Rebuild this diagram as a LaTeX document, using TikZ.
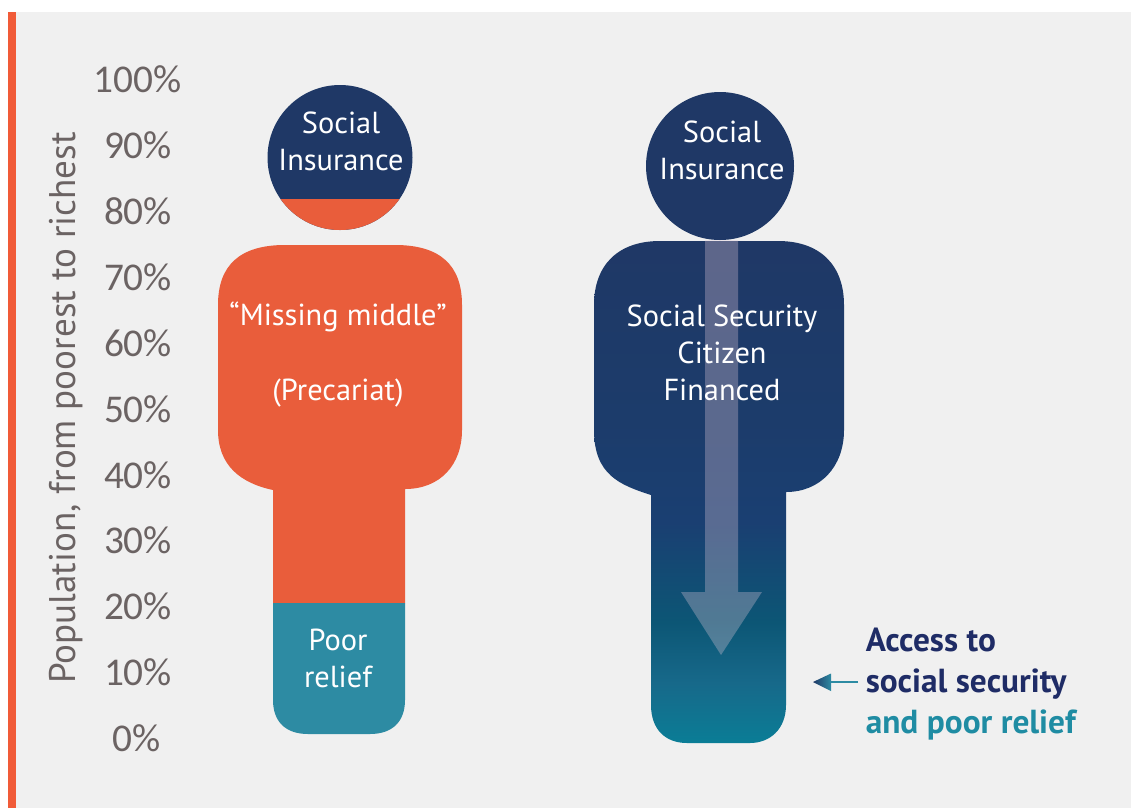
\documentclass[tikz,border=0pt]{standalone}
\usepackage{fontspec}
\setmainfont{PT Sans}
\newfontfamily\axisfont{Carlito}
\definecolor{bgc}{HTML}{F0F0F0}
\definecolor{orangec}{HTML}{E95D3B}
\definecolor{barc}{HTML}{F15B38}
\definecolor{navyc}{HTML}{1F3866}
\definecolor{tealc}{HTML}{2D8BA3}
\definecolor{axisc}{HTML}{6B6363}
\definecolor{textnavy}{HTML}{1F2C66}
\definecolor{texteal}{HTML}{1F8CA3}
\definecolor{arrowc}{HTML}{E0C8D8}
\definecolor{sa}{HTML}{0A7D96}
\definecolor{sb}{HTML}{17698A}
\definecolor{sc}{HTML}{0C5675}
\definecolor{sd}{HTML}{1A3F72}
\definecolor{se}{HTML}{1C3C6B}
\pgfdeclareverticalshading{bodyshade}{100bp}{color(0bp)=(sa); color(25bp)=(sa); color(31bp)=(sb); color(37bp)=(sc); color(47bp)=(sd); color(57bp)=(se); color(75bp)=(navyc); color(100bp)=(navyc)}
\pgfdeclarehorizontalshading{headshade}{100bp}{color(0bp)=(navyc); color(25bp)=(navyc); color(75bp)=(tealc); color(100bp)=(tealc)}
\tikzset{
  whitelabel/.style={text=white,font=\fontsize{22.8}{27.75}\selectfont,align=center,inner sep=0pt},
  axislabel/.style={text=axisc,font=\axisfont\fontsize{29.5}{32}\selectfont,inner sep=0pt},
}
\begin{document}
\begin{tikzpicture}[x=0.75pt,y=-0.75pt]
\useasboundingbox (0,0) rectangle (1131,808);
\fill[white] (0,0) rectangle (1131,808);
\fill[bgc] (16,12) rectangle (1131,808);
\fill[barc] (8,12) rectangle (16,808);

% left figure
\fill[navyc] (340,157.5) circle[radius=72.5];
\begin{scope}
  \clip (260,199) rectangle (420,240);
  \fill[orangec] (340,157.5) circle[radius=72.5];
\end{scope}
\fill[orangec] (218,305) .. controls (218,265) and (240,245) .. (285,245) -- (395,245)
  .. controls (440,245) and (462,265) .. (462,305) -- (462,430)
  .. controls (462,465) and (440,489) .. (405,489) -- (405,603) -- (273,603) -- (273,490)
  .. controls (240,483) and (218,465) .. (218,430) -- cycle;
\fill[tealc] (273,603) -- (405,603) -- (405,700) .. controls (405,722) and (392,734) .. (370,734)
  -- (308,734) .. controls (286,734) and (273,722) .. (273,700) -- cycle;

% right figure
\fill[navyc] (720,166) circle[radius=74];
\shade[shading=bodyshade] (594,305) .. controls (594,265) and (618,241) .. (660,241) -- (778,241)
  .. controls (820,241) and (844,265) .. (844,305) -- (844,430)
  .. controls (844,467) and (820,492) .. (786,492) -- (786,705)
  .. controls (786,729) and (770,743) .. (750,743) -- (687,743)
  .. controls (665,743) and (651,729) .. (651,705) -- (651,495)
  .. controls (620,485) and (594,475) .. (594,430) -- cycle;
\fill[arrowc,opacity=0.32] (705,240) -- (738,240) -- (738,592) -- (762,592) -- (721,655) -- (681,592) -- (705,592) -- cycle;

% labels
\node[whitelabel] (headl) at (341,141) {Social\\Insurance};
\node[whitelabel] (bodyl) at (338,354.5) {“Missing middle”\\[0.5pt]~\\[0.5pt](Precariat)};
\node[whitelabel] (legl) at (338,658) {Poor\\relief};
\node[whitelabel] (headr) at (722,150) {Social\\Insurance};
\node[whitelabel] (bodyr) at (722,353) {Social Security\\Citizen\\Financed};

% axis
\node[axislabel] (a100) at (137.5,79) {100\%};
\node[axislabel] (a90) at (138,145) {90\%};
\node[axislabel] (a80) at (138,211) {80\%};
\node[axislabel] (a70) at (138,277) {70\%};
\node[axislabel] (a60) at (138,343) {60\%};
\node[axislabel] (a50) at (138,409) {50\%};
\node[axislabel] (a40) at (138,475) {40\%};
\node[axislabel] (a30) at (138,540) {30\%};
\node[axislabel] (a20) at (138,606) {20\%};
\node[axislabel] (a10) at (138,672) {10\%};
\node[axislabel] (a0) at (137,738) {0\%};
\node[axislabel,rotate=90,font=\fontsize{27.8}{32}\selectfont] (ytitle) at (66,408) {Population, from poorest to richest};

% access label
\node[anchor=west,inner sep=0pt,align=left,font=\bfseries\fontsize{25}{31}\selectfont,text=textnavy] (access) at (865.5,684)
  {Access to\\social security\\\textcolor{texteal}{and poor relief}};
\coordinate (arrowend) at (830,682);
\draw[tealc,line width=2.2pt] (access.west) ++(-7.5,-2) -- (arrowend);
\shade[shading=headshade] (813,682) -- (831,673.5) -- (831,691) -- cycle;
\end{tikzpicture}
\end{document}
